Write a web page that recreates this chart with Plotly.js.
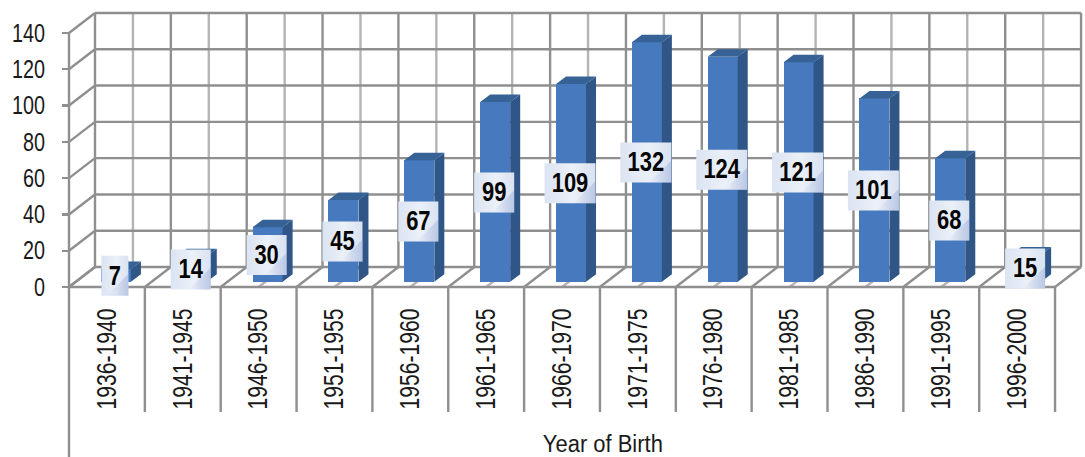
<!DOCTYPE html>
<html><head><meta charset="utf-8">
<script src="https://cdn.plot.ly/plotly-3.0.0.min.js"></script>
<style>html,body{margin:0;padding:0;background:#fff;overflow:hidden}</style>
</head><body><div id="chart" style="width:1085px;height:457px"></div>
<script>
const categories = ["1936-1940","1941-1945","1946-1950","1951-1955","1956-1960","1961-1965","1966-1970","1971-1975","1976-1980","1981-1985","1986-1990","1991-1995","1996-2000"];
const births = [7,14,30,45,67,99,109,132,124,121,101,68,15];
const yTicks = [0,20,40,60,80,100,120,140];

const FONT = '"Liberation Sans",Arial,sans-serif';
const pxX = 75.85, pxY = 254/140;          // px per category / per unit
const L = 69, B = 287, W = 1085, H = 457, T = 10, PAD = 9;
const X = p => p / pxX, Y = p => p / pxY;
const n = categories.length;
const wallDX = X(26), wallDY = Y(20);
const bar = {off: X(9), base: Y(5.3), w: X(30), dx: X(10), dy: Y(7.5)};
const centers = categories.map((_, i) => i + 0.5 + bar.off);

const GRID = '#8f8f8f', GRID2 = '#b4b4b4';
const LW = 2.4;
const shapes = [];
const seg = (x0, y0, x1, y1, color) => shapes.push({type:'line', layer:'below', xref:'x', yref:'y', x0, y0, x1, y1, line:{color, width:LW}});
for (let k = 0; k <= 2*n; k++) {
  const c = k % 2 ? GRID2 : GRID;
  seg(k/2 + wallDX, wallDY, k/2 + wallDX, 140 + wallDY, c);
  seg(k/2, 0, k/2 + wallDX, wallDY, c);
}
yTicks.forEach(v => {
  seg(wallDX, v + wallDY, n + wallDX, v + wallDY, GRID);
  seg(0, v, wallDX, v + wallDY, GRID);
});
// front axis lines and the category separators under the floor
seg(0, 0, n, 0, GRID);
seg(0, -Y(H - B), 0, 140, GRID);
for (let k = 1; k <= n; k++) seg(k, 0, k, -Y(125), GRID);

// 3D faces
const sideX = [], sideY = [], topX = [], topY = [];
births.forEach((v, i) => {
  const x1 = centers[i] + bar.w/2, x0 = centers[i] - bar.w/2, b = bar.base, t = b + v;
  sideX.push(x1, x1, x1 + bar.dx, x1 + bar.dx, x1, null);
  sideY.push(b, t, t + bar.dy, b + bar.dy, b, null);
  topX.push(x0, x1, x1 + bar.dx, x0 + bar.dx, x0, null);
  topY.push(t, t, t + bar.dy, t + bar.dy, t, null);
});

// label boxes
const boxW = {1: 27, 2: 40, 3: 51};
const boxes = [];
births.forEach((v, i) => {
  const hw = X(boxW[String(v).length]) / 2, hh = Y(20), cy = bar.base + v/2 + Y(-0.5), cx = centers[i] - X(1);
  const l = cx - hw, r = cx + hw, b = cy - hh, t = cy + hh, c = Math.min(X(22), 2*hw);
  boxes.push({type:'scatter', mode:'lines', hoverinfo:'skip', showlegend:false,
    x:[l, r, r, l, l], y:[b, b, t, t, b], line:{width:0}, fill:'toself',
    fillgradient:{type:'horizontal', colorscale:[[0,'#dbe4f3'],[0.55,'#ebf0f8'],[1,'#d9e2f1']]}});
  boxes.push({type:'scatter', mode:'lines', hoverinfo:'skip', showlegend:false,
    x:[r - c, r, r, r - c], y:[b, b, b + Y(22), b], line:{width:0}, fill:'toself',
    fillgradient:{type:'horizontal', colorscale:[[0,'rgba(140,160,210,0)'],[1,'rgba(140,160,210,0.4)']]}});
});

const traces = [
  {type:'bar', x:centers, y:births, base:bar.base, width:bar.w, marker:{color:'#4679BD', line:{width:0}}, hoverinfo:'x+y', showlegend:false},
  {type:'scatter', mode:'lines', x:sideX, y:sideY, fill:'toself', fillcolor:'#2F5687', line:{width:0}, hoverinfo:'skip', showlegend:false},
  {type:'scatter', mode:'lines', x:topX, y:topY, fill:'toself', fillcolor:'#376296', line:{width:0}, hoverinfo:'skip', showlegend:false},
  ...boxes,
  {type:'scatter', mode:'text', x:centers.map(c => c - X(1)), y:births.map(v => bar.base + v/2 + Y(-2.5)),
   text:births.map(String), textposition:'middle center', hoverinfo:'skip', showlegend:false,
   textfont:{family:FONT, size:27, color:'#050505', weight:'bold'}}
];

const layout = {
  width:W, height:H, paper_bgcolor:'#fff', plot_bgcolor:'#fff', showlegend:false,
  margin:{l:L - PAD, r:0, t:T, b:0, pad:0},
  bargap:0,
  xaxis:{range:[-X(PAD), X(W - L)], tickmode:'array', tickvals:categories.map((_, i) => i + 0.5), ticktext:categories,
         anchor:'free', position:(H - B)/(H - T),
         tickangle:-90, ticks:'', showgrid:false, zeroline:false, showline:false, ticklabelstandoff:15,
         tickfont:{family:FONT, size:27, color:'#1a1a1a'}},
  yaxis:{range:[-Y(H - B), Y(B - T)], tickmode:'array', tickvals:yTicks, ticks:'outside', ticklen:7, tickwidth:2.4, tickcolor:GRID,
         anchor:'free', position:PAD/(W - L + PAD),
         showgrid:false, zeroline:false, showline:false, ticklabelstandoff:12, tickfont:{family:FONT, size:25, color:'#1a1a1a'}},
  shapes,
  annotations:[{text:'Year of Birth', xref:'x', yref:'y', x:X(603 - L), y:-Y(444 - B), yanchor:'middle', xanchor:'center',
    showarrow:false, font:{family:FONT, size:23, color:'#1a1a1a'}}]
};
// The reference uses a narrow face that is not installed: condense the real text to the measured widths.
const squeeze = (sel, len) => document.querySelectorAll(sel).forEach(t => {
  t.setAttribute('textLength', len(t.textContent));
  t.setAttribute('lengthAdjust', 'spacingAndGlyphs');
});
Plotly.newPlot('chart', traces, layout, {displayModeBar:false, staticPlot:true}).then(() => {
  squeeze('.xtick text', () => 101);
  squeeze('.ytick text', s => s.length * 11);
  squeeze('.textpoint text', s => s.length * 12.2);
  squeeze('.annotation-text', () => 120);
});
</script></body></html>
